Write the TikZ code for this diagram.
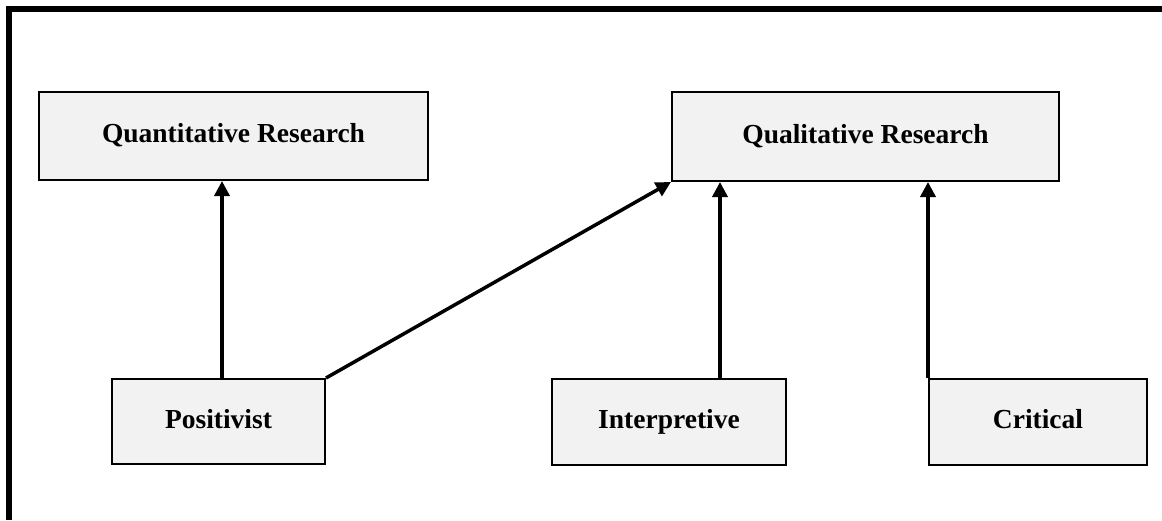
\documentclass[tikz,border=0pt]{standalone}
\usepackage{fontspec}
\setmainfont{Liberation Serif}
\usetikzlibrary{arrows.meta}

\begin{document}
\begin{tikzpicture}[x=1pt,y=-1pt,
  box/.style={draw,line width=2pt,fill=black!5,inner sep=0pt,
    text height=19pt,text depth=6pt,
    font=\fontsize{27.5}{32}\selectfont\bfseries},
  arr/.style={line width=3.5pt,-{Triangle[length=15pt,width=15pt]}}]
\useasboundingbox (0,0) rectangle (1162,520);
% frame
\draw[line width=6pt] (9,520) -- (9,9) -- (1162,9);
% boxes
\node[box,minimum width=389pt,minimum height=88pt] (quant) at (233.5,136) {Quantitative Research};
\node[box,minimum width=387pt,minimum height=89pt] (qual) at (865.5,136.5) {Qualitative Research};
\node[box,minimum width=213pt,minimum height=85pt] (posit) at (218.5,421.5) {Positivist};
\node[box,minimum width=234pt,minimum height=86pt] (interp) at (669,422) {Interpretive};
\node[box,minimum width=218pt,minimum height=86pt] (crit) at (1038,422) {Critical};
% arrows
\draw[arr] ([xshift=3.5pt]posit.north) -- ([xshift=3.5pt]posit.north |- quant.south);
\draw[arr] (posit.north east) -- (qual.south west);
\draw[arr] ([xshift=51pt]interp.north) -- ([xshift=51pt]interp.north |- qual.south);
\draw[arr] (crit.north west) -- (crit.north west |- qual.south);
\end{tikzpicture}
\end{document}
